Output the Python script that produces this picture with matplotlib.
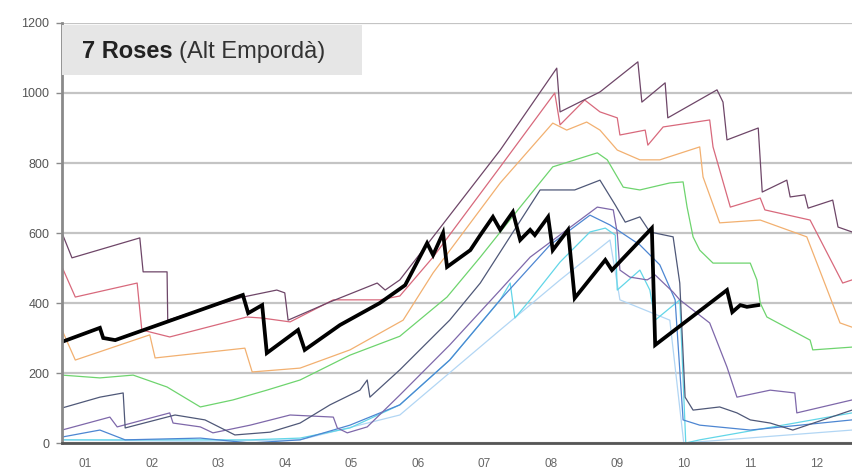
import matplotlib
matplotlib.use('Agg')
import matplotlib.pyplot as plt
from matplotlib.patches import Rectangle

plt.rcParams['font.family'] = ['Liberation Sans', 'DejaVu Sans']

MONTHS = ['01', '02', '03', '04', '05', '06', '07', '08', '09', '10', '11', '12']
TITLE_BOLD = '7 Roses'
TITLE_REST = '(Alt Empordà)'

# x in months since the start of the axis, y in the chart's units
dark_x = [0.00, 0.15, 1.17, 1.22, 1.58, 1.59, 1.92, 2.72, 3.23, 3.35, 3.40, 4.03, 4.74, 4.86, 5.08,
          6.59, 7.44, 7.49, 8.09, 8.66, 8.72, 9.07, 9.11, 9.85, 9.94, 10.00, 10.47, 10.53, 10.90,
          10.95, 11.17, 11.22, 11.59, 11.67, 11.88]
dark_y = [600, 529, 586, 489, 489, 351, 371, 417, 437, 429, 351, 403, 457, 437, 466,
          837, 1071, 946, 1003, 1089, 974, 1029, 929, 1009, 974, 866, 900, 717, 751,
          703, 709, 671, 694, 617, 603]

pink_x = [0.00, 0.20, 1.13, 1.20, 1.62, 2.78, 3.01, 3.43, 4.08, 4.78, 5.08, 5.58, 6.59, 7.41,
          7.49, 7.86, 8.09, 8.35, 8.39, 8.77, 8.81, 9.04, 9.74, 9.79, 10.05, 10.50, 10.57,
          11.25, 11.74, 11.88]
pink_y = [503, 417, 457, 323, 303, 360, 357, 346, 409, 409, 420, 531, 789, 1000,
          909, 980, 946, 929, 880, 894, 851, 903, 923, 846, 674, 700, 666,
          637, 457, 466]

orange_x = [0.00, 0.20, 1.32, 1.40, 2.75, 2.86, 3.58, 4.33, 5.13, 5.58, 6.59, 7.38, 7.59, 7.89,
            8.09, 8.35, 8.69, 8.99, 9.59, 9.64, 9.89, 10.50, 11.20, 11.70, 11.88]
orange_y = [323, 237, 309, 243, 271, 203, 214, 266, 351, 486, 743, 914, 894, 917,
            894, 837, 809, 809, 846, 760, 629, 637, 589, 343, 331]

green_x = [0.00, 0.57, 1.07, 1.58, 2.08, 2.57, 3.08, 3.58, 4.33, 5.08, 5.79, 6.29, 6.89, 7.38,
           8.05, 8.20, 8.44, 8.69, 9.14, 9.34, 9.40, 9.49, 9.59, 9.79, 10.35, 10.45, 10.50,
           10.60, 11.25, 11.29, 11.88]
green_y = [194, 186, 194, 160, 103, 123, 151, 180, 251, 305, 417, 531, 674, 789,
           829, 809, 731, 723, 743, 746, 674, 589, 551, 514, 514, 466, 400,
           360, 294, 266, 274]

navy_x = [0.00, 0.57, 0.92, 0.95, 1.70, 2.15, 2.60, 3.13, 3.58, 4.03, 4.48, 4.59, 4.63, 5.08,
          5.83, 6.29, 7.19, 7.71, 8.09, 8.32, 8.47, 8.69, 8.84, 9.19, 9.29, 9.37, 9.49, 9.89,
          10.15, 10.35, 10.65, 10.99, 11.88]
navy_y = [100, 131, 143, 43, 80, 66, 23, 31, 57, 109, 151, 180, 131, 209,
          351, 457, 723, 723, 751, 680, 631, 646, 603, 589, 457, 131, 94, 103,
          86, 66, 57, 37, 94]

purple_x = [0.00, 0.72, 0.83, 1.62, 1.67, 2.08, 2.27, 2.83, 3.43, 4.08, 4.14, 4.29, 4.59, 5.08,
            5.83, 6.59, 7.04, 8.05, 8.29, 8.35, 8.39, 8.54, 8.80, 8.92, 9.19, 9.29, 9.74,
            10.00, 10.15, 10.65, 11.02, 11.05, 11.88]
purple_y = [37, 74, 46, 86, 57, 46, 29, 51, 80, 74, 43, 29, 46, 137,
            280, 437, 531, 674, 666, 600, 494, 474, 466, 480, 431, 409, 343,
            217, 131, 151, 143, 86, 123]

blue_x = [0.00, 0.57, 0.95, 2.08, 2.83, 3.58, 4.33, 5.08, 5.83, 6.59, 7.34, 7.94, 8.24, 8.69,
          8.99, 9.22, 9.34, 9.59, 10.35, 11.10, 11.88]
blue_y = [17, 37, 9, 14, 0, 9, 51, 109, 237, 409, 566, 651, 623, 566,
          509, 409, 66, 51, 37, 51, 66]

cyan_x = [0.00, 1.32, 2.83, 3.58, 4.33, 5.08, 5.83, 6.59, 6.74, 6.81, 7.04, 7.49, 7.94, 8.17,
          8.32, 8.35, 8.69, 8.84, 8.92, 9.29, 9.38, 9.59, 11.88]
cyan_y = [9, 9, 9, 14, 43, 109, 237, 409, 457, 357, 409, 517, 603, 614,
          594, 437, 494, 437, 351, 409, 0, 9, 86]

light_x = [0.00, 2.00, 3.58, 5.08, 6.59, 7.49, 8.24, 8.39, 9.14, 9.35, 11.88]
light_y = [9, 5, 9, 80, 323, 466, 580, 409, 351, 0, 37]

black_x = [0.00, 0.57, 0.62, 0.80, 2.72, 2.80, 3.01, 3.08, 3.55, 3.65, 4.18, 4.78, 5.16, 5.49,
           5.58, 5.73, 5.79, 6.14, 6.29, 6.48, 6.59, 6.78, 6.89, 7.04, 7.11, 7.31, 7.38, 7.61,
           7.71, 8.17, 8.27, 8.87, 8.92, 10.00, 10.08, 10.20, 10.30, 10.47]
black_y = [289, 329, 300, 294, 423, 371, 394, 257, 323, 266, 337, 400, 451, 571,
           537, 600, 503, 551, 594, 646, 609, 660, 580, 609, 594, 646, 551, 609,
           414, 523, 494, 614, 280, 437, 374, 394, 389, 394]

fig = plt.figure(figsize=(8.52, 4.69), dpi=100)
ax = fig.add_axes([62 / 852, 26 / 469, 790 / 852, 420 / 469])

series = [
    (light_x, light_y, '#b2d6f4'),
    (cyan_x, cyan_y, '#62d6e8'),
    (blue_x, blue_y, '#4d86d2'),
    (purple_x, purple_y, '#7e68aa'),
    (navy_x, navy_y, '#4f5878'),
    (green_x, green_y, '#6ed46e'),
    (orange_x, orange_y, '#f2b070'),
    (pink_x, pink_y, '#d8697c'),
    (dark_x, dark_y, '#6e4668'),
]
for xs, ys, c in series:
    ax.plot(xs, ys, color=c, linewidth=0.9)

ax.plot(black_x, black_y, color='black', linewidth=2.7, solid_joinstyle='miter')

ax.set_xlim(0, 11.88)
ax.set_ylim(0, 1200)
ax.set_yticks(range(0, 1201, 200))
ax.set_xticks([k + 0.35 for k in range(12)])
ax.set_xticklabels(MONTHS)

ax.grid(axis='y', color='#c4c4c4', linewidth=1.6)
ax.set_axisbelow(True)
for s in ['top', 'right']:
    ax.spines[s].set_visible(False)
ax.spines['left'].set_color('#8a8a8a')
ax.spines['left'].set_linewidth(2)
ax.spines['bottom'].set_color('#555555')
ax.spines['bottom'].set_linewidth(2)
ax.tick_params(axis='y', colors='#8a8a8a', labelcolor='#555555', labelsize=9, length=4, width=1, pad=5)
ax.tick_params(axis='x', length=0, labelcolor='#666666', labelsize=8.5, pad=11)

# title box in the upper left corner
ax.add_patch(Rectangle((0.0, 0.877), 0.38, 0.118, transform=ax.transAxes,
                       facecolor='#e6e6e6', edgecolor='none', zorder=3))
t1 = ax.text(0.025, 0.905, TITLE_BOLD, transform=ax.transAxes, fontsize=17,
             fontweight='bold', color='#222222', va='bottom', zorder=4)
ax.annotate(TITLE_REST, xy=(1, 0), xycoords=t1, xytext=(5, 0), textcoords='offset points',
            fontsize=17, color='#333333', va='bottom', zorder=4)

fig.savefig('out.png', dpi=100)
